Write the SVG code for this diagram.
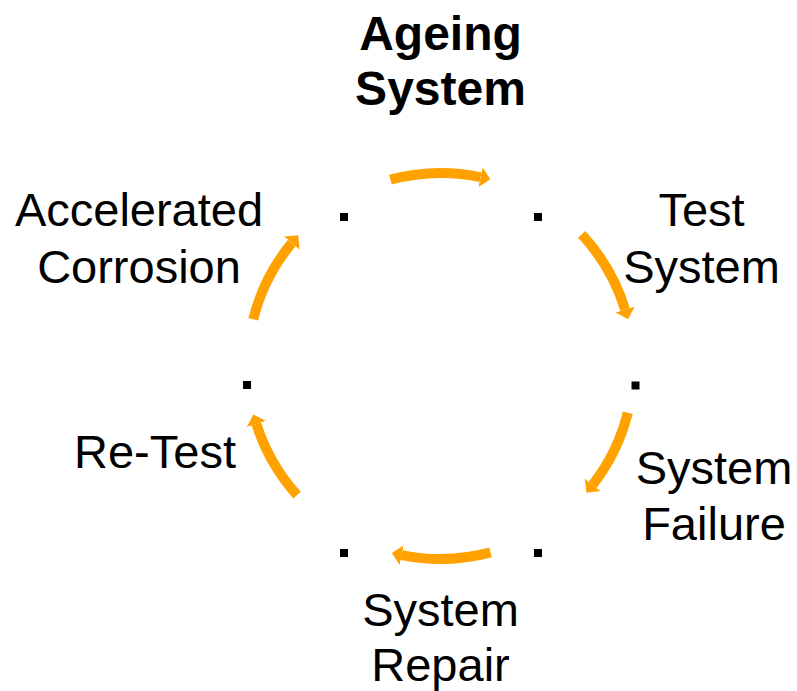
<svg xmlns="http://www.w3.org/2000/svg" width="797" height="691" viewBox="0 0 797 691">
  <style>
    .lbl { font-family: "Liberation Sans", Arial, sans-serif; font-size: 47px; fill: #000; text-anchor: middle; }
    .title { font-weight: bold; font-size: 48px; }
    .arc { fill: none; stroke: #FFA200; stroke-width: 10; marker-end: url(#head); }
    .dot { fill: #000; }
  </style>
  <defs>
    <marker id="head" markerUnits="userSpaceOnUse" markerWidth="14" markerHeight="24" viewBox="0 -12 14 24" refX="0" refY="0" orient="auto">
      <path d="M0,-10 L10,0 L0,10 z" fill="#FFA200"/>
    </marker>
  </defs>
  <rect width="797" height="691" fill="#fff"/>

  <!-- cycle connectors -->
  <g id="connectors">
    <path class="arc" d="M390.5,179.6 A193,193 0 0 1 480.6,177.2"/>
    <path class="arc" d="M581.7,234.4 A193,193 0 0 1 625.1,309.6"/>
    <path class="arc" d="M627.8,412.7 A193,193 0 0 1 592.6,484.8"/>
    <path class="arc" d="M490.5,552.4 A193,193 0 0 1 401.7,555.1"/>
    <path class="arc" d="M297.1,495.1 A193,193 0 0 1 256.4,424.0"/>
    <path class="arc" d="M253.2,319.3 A193,193 0 0 1 291.8,243.0"/>
  </g>

  <!-- nodes -->
  <g id="node-ageing">
    <text class="lbl title" x="440.5" y="50">Ageing</text>
    <text class="lbl title" x="440.5" y="105">System</text>
  </g>
  <g id="node-test">
    <rect class="dot" x="534" y="213" width="8" height="8"/>
    <text class="lbl" x="701.5" y="226">Test</text>
    <text class="lbl" x="701.5" y="283">System</text>
  </g>
  <g id="node-failure">
    <rect class="dot" x="631.5" y="381.5" width="8" height="8"/>
    <text class="lbl" x="714" y="484">System</text>
    <text class="lbl" x="714" y="540">Failure</text>
  </g>
  <g id="node-repair">
    <rect class="dot" x="534" y="549" width="8" height="8"/>
    <text class="lbl" x="440.5" y="626">System</text>
    <text class="lbl" x="440.5" y="681">Repair</text>
  </g>
  <g id="node-retest">
    <rect class="dot" x="340" y="549" width="8" height="8"/>
    <text class="lbl" x="155" y="468">Re-Test</text>
  </g>
  <g id="node-corrosion">
    <rect class="dot" x="243" y="381" width="8" height="8"/>
    <text class="lbl" x="139" y="226">Accelerated</text>
    <text class="lbl" x="139" y="283">Corrosion</text>
  </g>
  <g id="node-top-left">
    <rect class="dot" x="340" y="213" width="8" height="8"/>
  </g>
</svg>
